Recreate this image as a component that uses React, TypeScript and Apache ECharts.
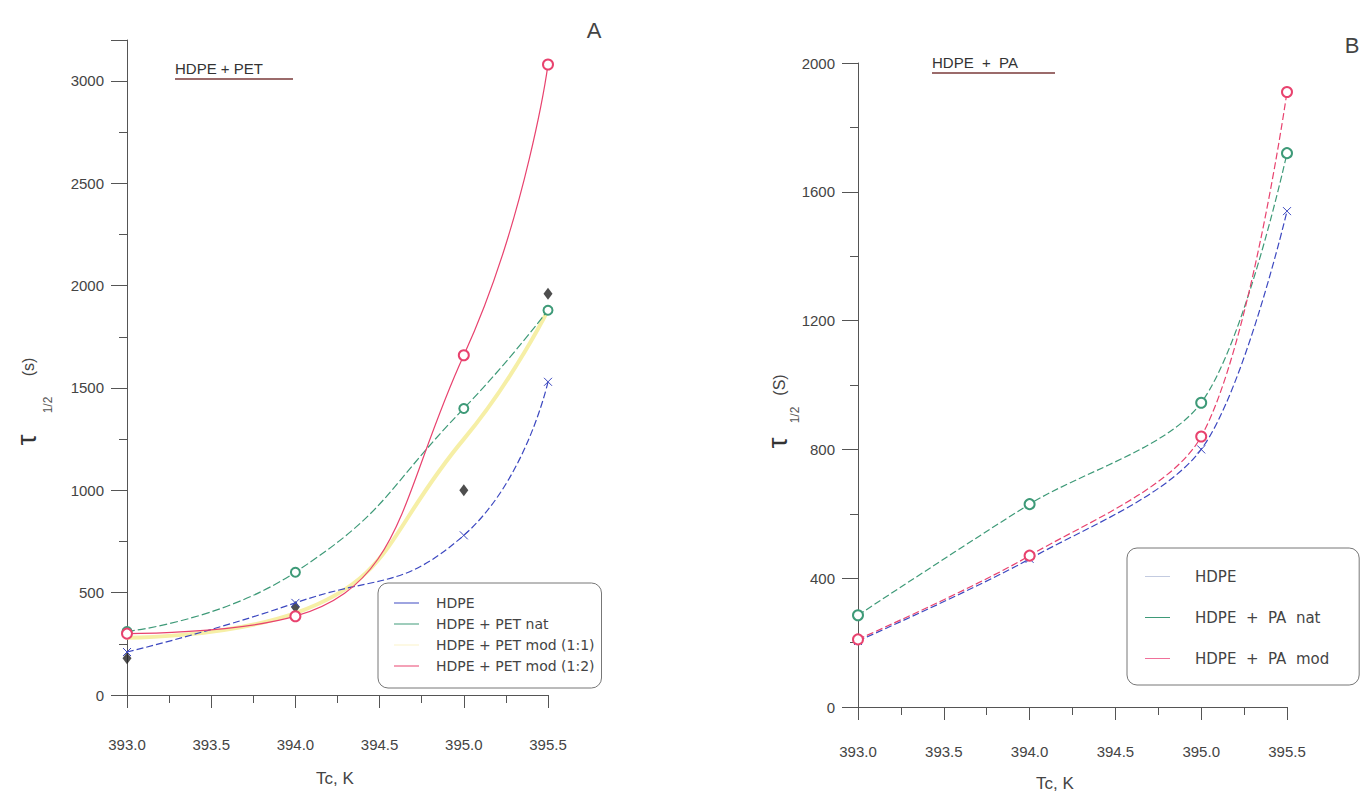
import React, { useEffect, useRef } from "react";
import * as echarts from "echarts";

// ---- Panel A : HDPE + PET ----
const tempA = [393.0, 394.0, 395.0, 395.5];
const hdpeA = [210, 450, 780, 1530];
const petNatA = [310, 600, 1400, 1880];
const petMod11FitA = [280, 400, 1250, 1880];
const petMod11PtsA = [180, 430, 1000, 1960];
const petMod12A = [300, 385, 1660, 3080];

// ---- Panel B : HDPE + PA ----
const tempB = [393.0, 394.0, 395.0, 395.5];
const hdpeB = [205, 460, 800, 1540];
const paNatB = [285, 630, 945, 1720];
const paModB = [210, 470, 840, 1910];

const namesA = ["HDPE", "HDPE + PET nat", "HDPE + PET mod (1:1)", "HDPE + PET mod (1:2)"];
const namesB = ["HDPE", "HDPE  +  PA  nat", "HDPE  +  PA  mod"];

const FONT = "Liberation Sans, Arial, sans-serif";
const LFONT = "DejaVu Sans, Liberation Sans, sans-serif";
const AXIS = "#555";
const TXT = "#444";
const BLUE = "#3c48c0";
const GREEN = "#3e9a78";
const YELLOW = "#f6efa6";
const RED = "#e8426e";
const BLUE_LIGHT = "#c3cbe0";
const PINK = "#f0709a";

const zip = (xs: number[], ys: number[]) => xs.map((x, i) => [x, ys[i]]);
const XSYM = "path://M0,0L10,10M10,0L0,10";

function xAxisCfg(gridIndex: number, margin: number) {
  return {
    type: "value",
    gridIndex,
    min: 393,
    max: 395.5,
    interval: 0.5,
    axisLine: { show: true, lineStyle: { color: AXIS, width: 1 } },
    axisTick: { show: true, length: 13, lineStyle: { color: AXIS } },
    minorTick: { show: true, splitNumber: 2, length: 8, lineStyle: { color: AXIS } },
    splitLine: { show: false },
    axisLabel: {
      margin,
      fontSize: 15,
      color: TXT,
      fontFamily: FONT,
      formatter: (v: number) => v.toFixed(1),
    },
  };
}

function yAxisCfg(gridIndex: number, max: number, interval: number, showMax: boolean) {
  return {
    type: "value",
    gridIndex,
    min: 0,
    max,
    interval,
    axisLine: { show: true, lineStyle: { color: AXIS, width: 1 } },
    axisTick: { show: true, length: 16, lineStyle: { color: AXIS } },
    minorTick: { show: true, splitNumber: 2, length: 8, lineStyle: { color: AXIS } },
    splitLine: { show: false },
    axisLabel: {
      margin: 23,
      fontSize: 15,
      color: TXT,
      fontFamily: FONT,
      showMaxLabel: showMax,
      formatter: (v: number) => String(Math.round(v)),
    },
  };
}

function yName(x: number, y: number, tau: number[], sub: number[], sup: number[], supText: string) {
  return {
    type: "group",
    x,
    y,
    rotation: Math.PI / 2,
    children: [
      { type: "text", x: tau[0], y: tau[1], style: { text: "τ", fontSize: 28, fontFamily: FONT, fill: "#333", align: "center", verticalAlign: "middle" } },
      { type: "text", x: sub[0], y: sub[1], style: { text: "1/2", fontSize: 12, fontFamily: FONT, fill: "#555", align: "center", verticalAlign: "middle" } },
      { type: "text", x: sup[0], y: sup[1], style: { text: supText, fontSize: 16, fontFamily: FONT, fill: "#444", align: "center", verticalAlign: "middle" } },
    ],
  };
}

export default function App() {
  const ref = useRef<HTMLDivElement>(null);
  useEffect(() => {
    if (!ref.current) return;
    const chart = echarts.init(ref.current, null, { renderer: "svg" });
    const lineA = { type: "line", smooth: 0.5, clip: false, symbolSize: 10 };
    const lineB = { type: "line", smooth: 0.3, clip: false, symbolSize: 10 };
    const legItem = (name: string, color: string) => ({
      name,
      itemStyle: { color, borderWidth: 0 },
    });
    const option: any = {
      animation: false,
      backgroundColor: "#fff",
      grid: [
        { left: 127, top: 40, width: 421, height: 655 },
        { left: 858, top: 63, width: 429, height: 644 },
      ],
      xAxis: [xAxisCfg(0, 42), xAxisCfg(1, 37)],
      yAxis: [yAxisCfg(0, 3200, 500, false), yAxisCfg(1, 2000, 400, true)],
      legend: [
        {
          orient: "vertical",
          left: 378,
          top: 583,
          icon: "rect",
          itemWidth: 25,
          itemHeight: 1,
          itemGap: 7,
          padding: [13, 7, 15, 16],
          borderColor: "#777",
          borderWidth: 1,
          borderRadius: 10,
          backgroundColor: "#fff",
          textStyle: { fontSize: 14, color: TXT, fontFamily: LFONT, padding: [0, 0, 0, 12] },
          selectedMode: false,
          data: [
            legItem(namesA[0], BLUE),
            legItem(namesA[1], GREEN),
            legItem(namesA[2], "#fbf3c8"),
            legItem(namesA[3], RED),
          ],
        },
        {
          orient: "vertical",
          left: 1127,
          top: 548,
          icon: "rect",
          itemWidth: 25,
          itemHeight: 1,
          itemGap: 26,
          padding: [21, 30, 19, 18],
          borderColor: "#777",
          borderWidth: 1,
          borderRadius: 10,
          backgroundColor: "#fff",
          textStyle: { fontSize: 15, color: TXT, fontFamily: LFONT, padding: [0, 0, 0, 20] },
          selectedMode: false,
          data: [
            legItem(namesB[0], BLUE_LIGHT),
            legItem(namesB[1], GREEN),
            legItem(namesB[2], PINK),
          ],
        },
      ],
      series: [
        // Panel A
        {
          ...lineA,
          name: namesA[2],
          xAxisIndex: 0,
          yAxisIndex: 0,
          data: zip(tempA, petMod11FitA),
          showSymbol: false,
          lineStyle: { color: YELLOW, width: 4 },
          itemStyle: { color: YELLOW },
          z: 1,
        },
        {
          ...lineA,
          name: namesA[0],
          xAxisIndex: 0,
          yAxisIndex: 0,
          data: zip(tempA, hdpeA),
          symbol: XSYM,
          symbolSize: 8,
          lineStyle: { color: BLUE, width: 1.2, type: [7, 3] },
          itemStyle: { color: BLUE, borderColor: BLUE, borderWidth: 1 },
        },
        {
          ...lineA,
          name: namesA[1],
          xAxisIndex: 0,
          yAxisIndex: 0,
          data: zip(tempA, petNatA),
          symbol: "emptyCircle",
          symbolSize: 9,
          lineStyle: { color: GREEN, width: 1.2, type: [8, 3] },
          itemStyle: { color: GREEN, borderColor: GREEN, borderWidth: 1 },
        },
        {
          ...lineA,
          name: namesA[3],
          xAxisIndex: 0,
          yAxisIndex: 0,
          data: zip(tempA, petMod12A),
          symbol: "emptyCircle",
          symbolSize: 10,
          lineStyle: { color: RED, width: 1.2 },
          itemStyle: { color: RED, borderColor: RED, borderWidth: 1 },
        },
        {
          type: "scatter",
          name: "HDPE + PET mod (1:1) points",
          xAxisIndex: 0,
          yAxisIndex: 0,
          data: zip(tempA, petMod11PtsA),
          symbol: "diamond",
          symbolSize: [9, 12],
          itemStyle: { color: "#222" },
          clip: false,
        },
        // Panel B
        {
          ...lineB,
          name: namesB[0],
          xAxisIndex: 1,
          yAxisIndex: 1,
          data: zip(tempB, hdpeB),
          symbol: XSYM,
          symbolSize: 8,
          lineStyle: { color: BLUE, width: 1.2, type: [7, 3] },
          itemStyle: { color: BLUE, borderColor: BLUE, borderWidth: 1 },
        },
        {
          ...lineB,
          name: namesB[1],
          xAxisIndex: 1,
          yAxisIndex: 1,
          data: zip(tempB, paNatB),
          symbol: "emptyCircle",
          symbolSize: 10,
          lineStyle: { color: GREEN, width: 1.2, type: [7, 3] },
          itemStyle: { color: GREEN, borderColor: GREEN, borderWidth: 1 },
        },
        {
          ...lineB,
          name: namesB[2],
          xAxisIndex: 1,
          yAxisIndex: 1,
          data: zip(tempB, paModB),
          symbol: "emptyCircle",
          symbolSize: 10,
          lineStyle: { color: RED, width: 1.2, type: [7, 3] },
          itemStyle: { color: RED, borderColor: RED, borderWidth: 1 },
        },
      ],
      graphic: [
        { type: "text", x: 594, y: 30, style: { text: "A", fontSize: 22, fontFamily: FONT, fill: "#444", align: "center", verticalAlign: "middle" } },
        { type: "text", x: 1352, y: 45, style: { text: "B", fontSize: 22, fontFamily: FONT, fill: "#444", align: "center", verticalAlign: "middle" } },
        { type: "text", x: 175, y: 68, style: { text: "HDPE + PET", fontSize: 15, fontFamily: FONT, fill: "#333", align: "left", verticalAlign: "middle" } },
        { type: "line", shape: { x1: 175, y1: 79, x2: 293, y2: 79 }, style: { stroke: "#7a3a3a", lineWidth: 1.5 } },
        { type: "text", x: 932, y: 62, style: { text: "HDPE  +  PA", fontSize: 15, fontFamily: FONT, fill: "#333", align: "left", verticalAlign: "middle" } },
        { type: "line", shape: { x1: 932, y1: 73, x2: 1055, y2: 73 }, style: { stroke: "#7a3a3a", lineWidth: 1.5 } },
        { type: "text", x: 335, y: 778, style: { text: "Tc, K", fontSize: 17, fontFamily: FONT, fill: "#444", align: "center", verticalAlign: "middle" } },
        { type: "text", x: 1055, y: 783, style: { text: "Tc, K", fontSize: 17, fontFamily: FONT, fill: "#444", align: "center", verticalAlign: "middle" } },
        yName(30, 400, [-40, -4], [-5, 18], [33, -2], "(s)"),
        yName(780, 410, [-33, -3], [-5, 15], [25, -1], "(S)"),
      ],
    };
    chart.setOption(option);
    return () => chart.dispose();
  }, []);
  return (
    <div
      ref={ref}
      style={{ position: "fixed", left: 0, top: 0, width: 1363, height: 794, background: "#fff" }}
    />
  );
}
